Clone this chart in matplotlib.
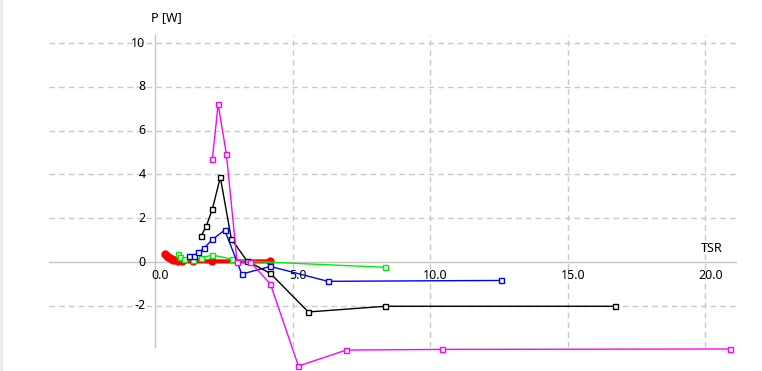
import numpy as np
import matplotlib.pyplot as plt
from matplotlib.transforms import ScaledTranslation

# series (TSR, power in W)
red_tsr = [0.35, 0.41, 0.47, 0.53, 0.59, 0.65, 0.74, 0.83, 0.96, 1.38, 2.05, 4.17]
red_p = [0.35, 0.29, 0.24, 0.18, 0.15, 0.11, 0.08, 0.05, 0.03, 0.03, 0.03, 0.03]

green_tsr = [0.83, 0.91, 1.03, 1.38, 1.67, 2.07, 2.77, 3.45, 8.36]
green_p = [0.37, 0.24, 0.14, 0.09, 0.20, 0.32, 0.14, 0.03, -0.24]

blue_tsr = [1.22, 1.39, 1.56, 1.77, 2.07, 2.52, 3.14, 4.18, 6.27, 12.56]
blue_p = [0.27, 0.27, 0.44, 0.64, 1.03, 1.46, -0.55, -0.20, -0.88, -0.84]

black_tsr = [1.66, 1.85, 2.07, 2.36, 2.76, 3.33, 4.18, 5.56, 8.36, 16.72]
black_p = [1.19, 1.64, 2.42, 3.87, 1.06, 0.05, -0.52, -2.28, -2.02, -2.02]

magenta_tsr = [2.07, 2.28, 2.58, 2.97, 3.45, 4.18, 5.20, 6.94, 10.43, 20.9]
magenta_p = [4.69, 7.21, 4.93, 0.0, 0.0, -1.0, -4.75, -4.02, -3.99, -3.97]

xticks = [0, 5, 10, 15, 20]
xtick_labels = ['0.0', '5.0', '10.0', '15.0', '20.0']
yticks = [-2, 0, 2, 4, 6, 8, 10]


def main():
    plt.rcParams['font.family'] = ['Noto Sans', 'DejaVu Sans']
    fig = plt.figure(figsize=(7.62, 3.71), dpi=100)
    # thin window border on the left like the screenshot
    fig.patches.append(plt.Rectangle((0, 0), 2 / 762, 1, transform=fig.transFigure,
                                     color='#ececec', zorder=0))
    ax = fig.add_axes([49 / 762, 24 / 371, 687 / 762, 312 / 371])
    ax.set_xlim(-3.87, 21.11)
    ax.set_ylim(-3.88, 10.37)

    for s in ['top', 'right']:
        ax.spines[s].set_visible(False)
    ax.spines['left'].set_position(('data', 0))
    ax.spines['bottom'].set_position(('data', 0))
    for s in ['left', 'bottom']:
        ax.spines[s].set_color('#c4c4c4')
        ax.spines[s].set_linewidth(1.0)
    ax.set_xticks([])
    ax.set_yticks([])

    for x in xticks[1:]:
        ax.axvline(x, color='#c8c8c8', ls=(0, (4, 3)), lw=1.0, zorder=0)
    for y in yticks:
        if y != 0:
            ax.axhline(y, color='#c8c8c8', ls=(0, (4, 3)), lw=1.0, zorder=0)

    # tick labels, offset like the original
    def off(dx, dy):
        return ax.transData + ScaledTranslation(dx / 100, dy / 100, fig.dpi_scale_trans)

    for x, lab in zip(xticks, xtick_labels):
        ax.text(x, 0, lab, transform=off(5, -7), ha='center', va='top',
                fontsize=9, color='black')
    for y in yticks:
        ax.text(0, y, str(y), transform=off(-10, 0), ha='right', va='center',
                fontsize=9, color='black')

    ax.text(712 / 762, (371 - 248) / 371, 'TSR', transform=fig.transFigure,
            ha='center', va='center', fontsize=9, color='black')
    ax.text(166 / 762, (371 - 18) / 371, 'P [W]', transform=fig.transFigure,
            ha='center', va='center', fontsize=9, color='black')

    ax.plot(red_tsr, red_p, color='#ff0000', lw=3, marker='o', ms=5,
            clip_on=False, zorder=3)
    sq = dict(marker='s', ms=3.6, mfc='white', mew=1.0, lw=1.0, clip_on=False, zorder=4)
    ax.plot(green_tsr, green_p, color='#00ee00', **sq)
    ax.plot(blue_tsr, blue_p, color='#0000ff', **sq)
    ax.plot(black_tsr, black_p, color='#000000', **sq)
    ax.plot(magenta_tsr, magenta_p, color='#ff00ff', **sq)

    fig.savefig('out.png', dpi=100)


if __name__ == "__main__":
    main()
